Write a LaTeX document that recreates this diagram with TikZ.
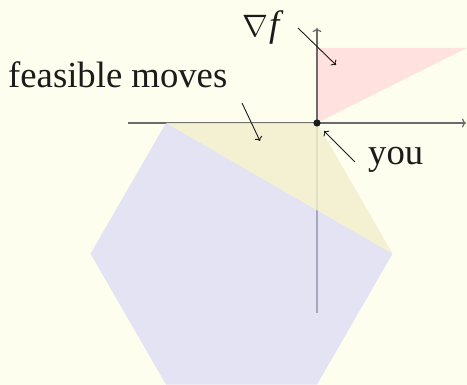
\RequirePackage{fix-cm}
\documentclass[tikz,border=0pt]{standalone}
\usepackage{xcolor}
\usepackage{fontspec}
\setmainfont{Liberation Serif}
\usepackage{tikz}
\usetikzlibrary{arrows.meta}
\definecolor{paper}{HTML}{FEFEEE}
\definecolor{ink}{HTML}{1B1B1B}
\definecolor{axis}{HTML}{6A6A6A}
\definecolor{hexblue}{HTML}{D2D2F7}
\definecolor{moveyel}{HTML}{FCF8C6}
\definecolor{gradred}{HTML}{FFE2DF}
\newcommand{\biglabel}[1]{{\fontsize{36.7}{40}\selectfont #1}}

\begin{document}
\begin{tikzpicture}[x=1pt,y=1pt,
    axisline/.style={draw=axis,line width=1.2pt,-{To[length=4pt,width=9pt]}},
    pointer/.style={draw=ink,line width=0.9pt,-{To[length=4pt,width=8pt]}},
    label/.style={inner sep=0pt,anchor=base west,text=ink}]
  % page
  \fill[paper] (-317,-262) rectangle (150,123);
  % gradient cone
  \fill[gradred] (0,0) -- (0,75) -- (150,75) -- cycle;
  % axes
  \coordinate (xl) at (-189,0);
  \coordinate (xr) at (149,0);
  \coordinate (yb) at (0,-190);
  \coordinate (yt) at (0,95);
  \draw[axisline] (xl) -- (xr);
  \draw[axisline] (yb) -- (yt);
  % polytope and the feasible part of it
  \fill[hexblue,fill opacity=.6,shift={(-75.5,-130.8)}]
    (0:151) \foreach \a in {60,120,...,300} {-- (\a:151)} -- cycle;
  \fill[moveyel,fill opacity=.7] (-151,0) -- (0,0) -- (75.5,-130.8) -- cycle;
  \fill[ink] (0,0) circle (3.6);
  \coordinate (you) at (0,0);
  % labels
  \node[label] (grad) at (-75,86) {{\fontsize{31}{36}\selectfont$\nabla$}\biglabel{\kern1pt\textit{f}}};
  \node[label] (moves) at (-309,35) {\biglabel{feasible moves}};
  \node[label] (me) at (51,-42) {\biglabel{you}};
  \coordinate (gradfrom) at (-19,95);
  \coordinate (gradto) at (19,58);
  \coordinate (movesfrom) at (-75,20);
  \coordinate (movesto) at (-57,-18);
  \coordinate (mefrom) at (38,-39);
  \coordinate (meto) at (7,-8);
  \draw[pointer] (gradfrom) -- (gradto);
  \draw[pointer] (movesfrom) -- (movesto);
  \draw[pointer] (mefrom) -- (meto);
\end{tikzpicture}
\end{document}
